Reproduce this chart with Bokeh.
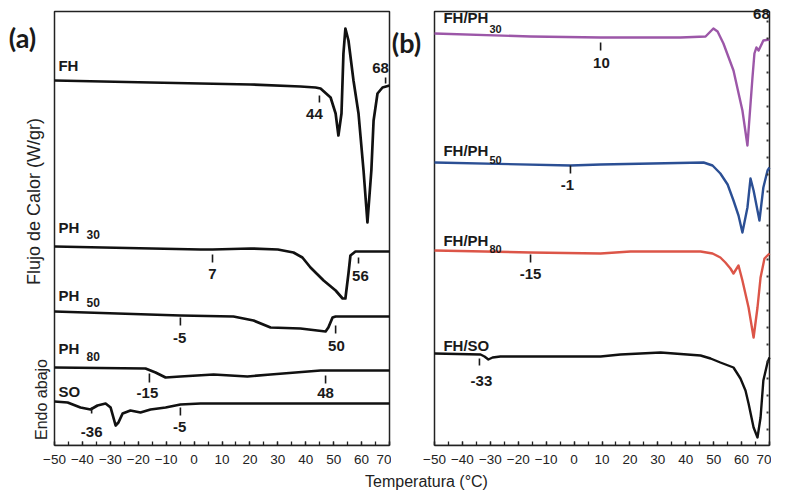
from math import pi
from bokeh.plotting import figure
from bokeh.models import Label, SingleIntervalTicker
from bokeh.layouts import row, column
from bokeh.core.properties import value
from bokeh.embed import file_html
from bokeh.resources import INLINE

FONT = "Liberation Sans"

# ---------------- Panel (a): pure components (stacked, arbitrary heat-flow units) ----------
fh_T = [-50, -15.6, 20.2, 38.1, 43.5, 45.3, 48.9, 50.7, 51.7, 52.8, 53.5, 54.2, 55.3, 57.1,
        58.9, 60.7, 62.1, 63.5, 64.3, 65.7, 67.5, 70]
fh_q = [36.5, 36.3, 36.1, 35.9, 35.8, 35.7, 34.8, 33.2, 31.0, 33.2, 39.2, 41.7, 40.5, 36.5,
        33.2, 27.5, 22.3, 27.5, 32.5, 35.2, 35.8, 36.0]

ph30_T = [-50, 2.3, 6.6, 20.2, 30.0, 35.6, 38.8, 41.7, 46.4, 50.7, 53.2, 54.2, 55.3, 56.0,
          57.8, 70]
ph30_q = [19.9, 19.6, 19.6, 19.7, 19.6, 19.3, 18.8, 17.8, 16.5, 15.5, 14.7, 14.7, 17.2, 19.0,
          19.4, 19.4]

ph50_T = [-50, -4.9, 14.1, 21.3, 27.4, 38.1, 47.1, 48.1, 49.6, 50.7, 70]
ph50_q = [13.4, 13.0, 12.9, 12.5, 11.8, 11.7, 11.4, 11.8, 12.8, 12.9, 12.9]

ph80_T = [-50, -17.4, -13.8, -10.2, -4.9, 7.0, 19.1, 27.4, 45.3, 70]
ph80_q = [7.8, 7.7, 7.3, 6.8, 6.9, 7.1, 6.9, 7.1, 7.5, 7.5]

so_T = [-50, -45.3, -40.7, -37.1, -34.6, -31.7, -29.9, -28.1, -27.1, -25.6, -22.8, -19.2,
        -15.6, -10.2, -4.9, 2.3, 20.2, 70]
so_q = [4.4, 4.3, 3.8, 3.6, 4.0, 4.2, 3.8, 2.0, 2.3, 3.2, 3.5, 3.3, 3.6, 3.8, 4.1, 4.2, 4.2, 4.2]

a_names = ["FH", "PH", "PH", "PH", "SO"]
a_names_q = [38.0, 21.8, 15.0, 9.7, 5.4]
a_subs = ["30", "50", "80"]
a_subs_q = [21.1, 14.3, 8.9]

a_mark_T = [44.9, 68.6, 6.6, 58.9, -4.9, 50.7, -16.0, 47.1, -36.7, -4.9]
a_mark_top = [35.0, 36.8, 19.1, 18.8, 12.8, 12.0, 7.2, 7.0, 3.8, 3.8]
a_mark_bot = [34.3, 36.2, 18.3, 18.2, 12.0, 11.2, 6.3, 6.2, 3.2, 3.0]
a_notes = ["44", "68", "7", "56", "-5", "50", "-15", "48", "-36", "-5"]
a_notes_T = [43.1, 66.8, 6.6, 59.6, -5.2, 51.0, -16.7, 47.1, -36.7, -5.2]
a_notes_q = [33.2, 37.8, 17.2, 17.0, 10.8, 10.0, 5.3, 5.3, 1.4, 1.9]

# ---------------- Panel (b): blends ----------------
fp30_T = [-50, -15.6, 9.5, 38.1, 47.1, 49.9, 51.4, 53.5, 57.1, 60.3, 62.1, 63.9, 64.6, 65.3,
          66.1, 67.8, 70]
fp30_q = [41.2, 40.9, 40.8, 40.8, 40.9, 41.7, 41.4, 40.2, 37.5, 33.5, 30.0, 36.8, 39.2, 39.8,
          39.5, 40.5, 40.6]

fp50_T = [-50, -1.3, 9.5, 46.4, 49.6, 52.4, 55.0, 57.1, 58.9, 60.3, 62.1, 63.2, 64.3, 66.4,
          67.8, 69.3, 70]
fp50_q = [28.3, 28.0, 28.1, 28.3, 28.0, 27.2, 26.1, 24.5, 23.0, 21.3, 23.8, 26.7, 25.5, 22.5,
          25.8, 27.5, 27.8]

fp80_T = [-50, -15.6, 9.5, 20.2, 45.3, 49.6, 52.4, 54.2, 56.0, 57.1, 58.9, 60.3, 62.5, 64.3,
          65.7, 66.8, 68.2, 70]
fp80_q = [19.5, 19.3, 19.2, 19.4, 19.4, 19.2, 18.8, 18.3, 17.7, 17.2, 18.0, 16.5, 13.8, 10.8,
          13.8, 16.8, 18.7, 19.2]

fso_T = [-50, -33.5, -32.1, -30.7, -29.2, -26.4, 9.5, 16.6, 31.0, 45.3, 48.9, 52.4, 57.1,
         59.6, 61.4, 62.5, 64.3, 65.7, 66.8, 67.8, 69.3, 70]
fso_q = [9.2, 9.1, 8.9, 8.6, 8.8, 8.9, 8.9, 9.1, 9.3, 9.0, 8.7, 8.3, 7.8, 6.7, 5.5, 4.2, 1.8,
         0.8, 2.8, 6.5, 8.3, 8.8]

b_names = ["FH/PH", "FH/PH", "FH/PH", "FH/SO"]
b_names_q = [42.8, 29.5, 20.5, 10.0]
b_subs = ["30", "50", "80"]
b_subs_q = [41.7, 28.6, 19.7]

b_mark_T = [9.5, -1.3, -15.6, -33.9]
b_mark_top = [40.3, 28.0, 19.1, 8.7]
b_mark_bot = [39.5, 27.2, 18.3, 8.0]
b_notes = ["10", "68", "-1", "-15", "-33"]
b_notes_T = [9.8, 67.1, -2.4, -15.6, -33.2]
b_notes_q = [38.3, 43.2, 26.1, 17.2, 6.5]
b_melt_T = 69.3
b_melt_q = [42.5, 0.0]

T_MIN, T_MAX = -50, 70      # temperature axis of each panel
Q_MIN, Q_MAX = 0.0, 43.4    # heat-flow extent of each panel box
PXU = 335 / (T_MAX - T_MIN)  # pixels per degree of the panel box


def make_panel(left_px):
    # the frame extends a little beyond the panel box so that the side texts are drawn in it
    x0 = T_MIN - left_px / PXU
    x1 = T_MAX + 2 / PXU
    p = figure(frame_width=left_px + 337, frame_height=445, x_range=(x0, x1),
               y_range=(Q_MIN, 44.5), min_border_left=0, min_border_right=0,
               min_border_top=0, min_border_bottom=28, toolbar_location=None,
               output_backend="svg", background_fill_color="white",
               border_fill_color="white")
    p.xgrid.visible = False
    p.ygrid.visible = False
    p.yaxis.visible = False
    p.outline_line_color = None
    ax = p.xaxis[0]
    ax.bounds = (T_MIN, T_MAX)
    ax.ticker = SingleIntervalTicker(interval=10, num_minor_ticks=2)
    ax.axis_line_color = "#222222"
    ax.axis_line_width = 1.5
    ax.major_tick_in = 4
    ax.major_tick_out = 0
    ax.minor_tick_in = 4
    ax.minor_tick_out = 0
    ax.major_tick_line_color = "#222222"
    ax.minor_tick_line_color = "#222222"
    ax.major_tick_line_width = 1.3
    ax.minor_tick_line_width = 1.3
    ax.major_label_text_font = FONT
    ax.major_label_text_font_size = "13.5px"
    ax.major_label_text_color = "#222222"
    ax.major_label_standoff = 9
    p.quad(left=[T_MIN], right=[T_MAX], bottom=[Q_MIN], top=[Q_MAX], fill_color=None,
           line_color="#222222", line_width=1.5)
    return p


def add_text(p, x, y, text, size="15px", bold=True, align="center", font=FONT,
             angle=0, color="#1a1a1a"):
    p.add_layout(Label(x=x, y=y, text=text, text_font=font,
                       text_font_size=size, text_font_style="bold" if bold else "normal",
                       text_align=align, text_baseline="middle", angle=angle,
                       text_color=color))


# ---------------- build panel (a) ----------------
pa = make_panel(54)
for T, q in [(fh_T, fh_q), (ph30_T, ph30_q), (ph50_T, ph50_q), (ph80_T, ph80_q), (so_T, so_q)]:
    pa.line(T, q, line_color="#111111", line_width=2.7, line_join="round")
pa.segment(x0=a_mark_T, y0=a_mark_top, x1=a_mark_T, y1=a_mark_bot,
           line_color="#1a1a1a", line_width=1.6)
for t, x, y in zip(a_notes, a_notes_T, a_notes_q):
    add_text(pa, x, y, t)
for t, y in zip(a_names, a_names_q):
    add_text(pa, -48.6, y, t, align="left")
for t, y in zip(a_subs, a_subs_q):
    add_text(pa, -38.5, y, t, size="12px", align="left")
add_text(pa, -66.4, 40.8, "(a)", size="27px", align="left", font="Lato")
add_text(pa, -57.5, 24.4, "Flujo de Calor (W/gr)", size="18px", bold=False,
         angle=pi / 2, color="#222222")
add_text(pa, -54.8, 4.6, "Endo abajo", size="16px", bold=False,
         angle=pi / 2, color="#222222")

# ---------------- build panel (b) ----------------
pb = make_panel(43)
for T, q, c in [(fp30_T, fp30_q, "#9c57a8"), (fp50_T, fp50_q, "#2b4f94"),
                (fp80_T, fp80_q, "#dc5548"), (fso_T, fso_q, "#111111")]:
    pb.line(T, q, line_color=c, line_width=2.4, line_join="round")
pb.segment(x0=b_mark_T, y0=b_mark_top, x1=b_mark_T, y1=b_mark_bot,
           line_color="#1a1a1a", line_width=1.6)
pb.line([b_melt_T, b_melt_T], b_melt_q, line_color="#333333", line_width=2,
        line_dash="2 15")
for t, x, y in zip(b_notes, b_notes_T, b_notes_q):
    add_text(pb, x, y, t)
for t, y in zip(b_names, b_names_q):
    add_text(pb, -46.8, y, t, align="left")
for t, y in zip(b_subs, b_subs_q):
    add_text(pb, -30.3, y, t, size="11px", align="left")
add_text(pb, -65.3, 40.3, "(b)", size="27px", align="left", font="Lato")

# ---------------- shared x-axis title ----------------
pt = figure(width=771, height=19, x_range=(0, 771), y_range=(0, 1), min_border=0,
            toolbar_location=None, output_backend="svg")
pt.axis.visible = False
pt.grid.visible = False
pt.outline_line_color = None
pt.text(x=[426], y=[0.6], text=["Temperatura (°C)"], text_font=value(FONT),
        text_font_size="16px", text_align="center", text_baseline="middle",
        text_color="#222222")

layout = column(row(pa, pb), pt)
open("out.html", "w").write(file_html(layout, INLINE))
